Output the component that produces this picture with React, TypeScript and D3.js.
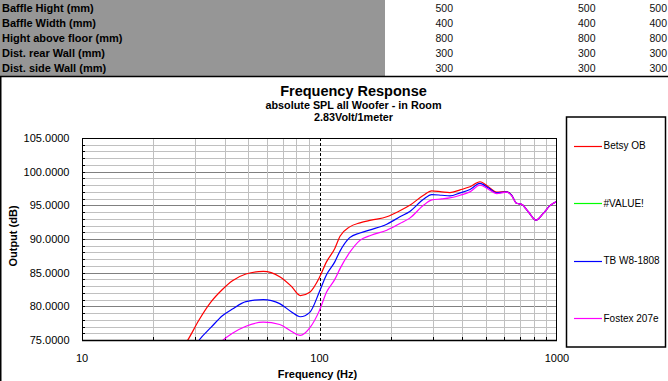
import React from "react";
import * as d3 from "d3";

const TABLE_LABELS = [
  "Baffle Hight (mm)",
  "Baffle Width (mm)",
  "Hight above floor (mm)",
  "Dist. rear Wall (mm)",
  "Dist. side Wall (mm)",
];
const TABLE_COL1 = ["500", "400", "800", "300", "300"];
const TABLE_COL2 = ["500", "400", "800", "300", "300"];
const TABLE_COL3 = ["500", "400", "800", "300", "300"];

const FREQ = [22, 25, 28, 31, 35, 39, 43, 49, 58, 68, 76, 83, 91, 100, 107, 116, 122, 134, 148, 165, 192, 218, 240, 274, 297, 327, 354, 391, 430, 474, 514, 557, 614, 644, 676, 710, 757, 816, 875, 934, 1000];

const BETSY = [69.5, 72.7, 75.1, 77.9, 80.7, 82.5, 83.8, 84.8, 85.2, 84.4, 83.0, 81.6, 82.1, 84.3, 86.6, 88.6, 90.4, 91.8, 92.4, 92.8, 93.3, 94.2, 95.0, 96.5, 97.15, 97.0, 96.9, 97.3, 97.75, 98.5, 97.75, 96.95, 97.05, 96.5, 95.3, 95.15, 94.05, 92.8, 93.8, 94.95, 95.6];
const VALUE_ERR: number[] = [];
const TBW8 = [65, 69, 72.5, 74.9, 76.9, 78.6, 79.6, 80.7, 81.0, 80.4, 79.2, 78.45, 79.1, 82.2, 84.7, 86.6, 88.2, 90.2, 90.9, 91.4, 92.2, 93.3, 94.1, 95.9, 96.6, 96.5, 96.4, 96.85, 97.35, 98.25, 97.6, 96.85, 97.0, 96.5, 95.3, 95.15, 94.05, 92.8, 93.8, 94.95, 95.6];
const FOSTEX = [62, 65.5, 68.5, 70.8, 72.9, 74.9, 76.0, 77.05, 77.65, 77.3, 76.3, 75.7, 76.8, 79.4, 82.1, 84.0, 85.6, 88.0, 89.8, 90.55, 91.3, 92.3, 93.1, 95.0, 95.8, 95.95, 96.1, 96.5, 97.0, 98.0, 97.4, 96.75, 96.95, 96.45, 95.3, 95.15, 94.05, 92.8, 93.8, 94.95, 95.6];

const SERIES_NAMES = ["Betsy OB", "#VALUE!", "TB W8-1808", "Fostex 207e"];
const SERIES_COLORS = ["#ff0000", "#00ff00", "#0000ff", "#ff00ff"];
const SERIES_VALUES = [BETSY, VALUE_ERR, TBW8, FOSTEX];

const Y_TICKS = [75, 80, 85, 90, 95, 100, 105];
const X_TICKS = [10, 100, 1000];
const X_MINOR = [20, 30, 40, 50, 60, 70, 80, 90, 200, 300, 400, 500, 600, 700, 800, 900];

const FONT = "'Liberation Sans', Arial, sans-serif";

export default function App() {
  const W = 668, H = 381;
  const L = 82, R = 557, T = 138, B = 340;
  const x = d3.scaleLog().domain([10, 1000]).range([L, R]);
  const y = d3.scaleLinear().domain([75, 105]).range([B, T]);
  const px = (v: number) => Math.round(v) + 0.5;

  const line = d3
    .line<[number, number]>()
    .x((d) => x(d[0]))
    .y((d) => y(d[1]))
    .curve(d3.curveMonotoneX);

  const minorY = d3.range(75, 106, 1);
  const rowY = (i: number) => 11.5 + i * 15.2;
  const legendY = [145.7, 203.3, 260.5, 318.3];

  return (
    <svg width={W} height={H} style={{ position: "absolute", left: 0, top: 0, background: "#fff" }} fontFamily={FONT}>
      <rect x={0} y={0} width={W} height={H} fill="#fff" />
      {/* top table */}
      <rect x={0} y={0} width={385} height={76} fill="#969696" />
      {TABLE_LABELS.map((t, i) => (
        <text key={"l" + i} x={2} y={rowY(i)} fontSize={11} fontWeight="bold" fill="#000">{t}</text>
      ))}
      {[TABLE_COL1, TABLE_COL2, TABLE_COL3].map((col, c) =>
        col.map((t, i) => (
          <text key={"c" + c + i} x={[453, 595.5, 667][c]} y={rowY(i)} fontSize={10.5} textAnchor="end" fill="#111">{t}</text>
        ))
      )}
      {/* chart area border */}
      <line x1={0} x2={W} y1={76.5} y2={76.5} stroke="#000" strokeWidth={1.5} />
      <line x1={0.75} x2={0.75} y1={76} y2={H} stroke="#000" strokeWidth={1.5} />

      {/* titles */}
      <text x={353.5} y={96} textAnchor="middle" fontSize={14.5} fontWeight="bold">Frequency Response</text>
      <text x={353.5} y={109} textAnchor="middle" fontSize={10.8} fontWeight="bold">absolute SPL all Woofer - in Room</text>
      <text x={353.5} y={120.7} textAnchor="middle" fontSize={10.8} fontWeight="bold">2.83Volt/1meter</text>

      {/* grid */}
      {minorY.map((v) => (
        <line key={"hy" + v} x1={L} x2={R} y1={px(y(v))} y2={px(y(v))} stroke={v % 5 === 0 ? "#808080" : "#c0c0c0"} strokeWidth={1} />
      ))}
      {X_MINOR.map((f) => (
        <line key={"vx" + f} x1={px(x(f))} x2={px(x(f))} y1={T} y2={B} stroke="#c0c0c0" strokeWidth={1} />
      ))}
      {/* inner ticks */}
      {minorY.map((v) => (
        <line key={"ty" + v} x1={L} x2={L + 3} y1={px(y(v))} y2={px(y(v))} stroke="#000" strokeWidth={1} />
      ))}
      {X_MINOR.map((f) => (
        <line key={"tx" + f} x1={px(x(f))} x2={px(x(f))} y1={B - 3} y2={B} stroke="#000" strokeWidth={1} />
      ))}
      {/* 100 Hz marker */}
      <line x1={px(x(100))} x2={px(x(100))} y1={T} y2={B} stroke="#000" strokeWidth={1} strokeDasharray="3,2" />

      <defs>
        <clipPath id="plotclip">
          <rect x={L} y={T} width={R - L} height={B - T} />
        </clipPath>
      </defs>
      <g clipPath="url(#plotclip)">
        {SERIES_VALUES.map((vals, si) =>
          vals.length ? (
            <path
              key={"s" + si}
              d={line(vals.map((v, i) => [FREQ[i], v] as [number, number])) || ""}
              fill="none"
              stroke={SERIES_COLORS[si]}
              strokeWidth={1.2}
            />
          ) : null
        )}
      </g>
      {/* plot border */}
      <rect x={L + 0.5} y={T + 0.5} width={R - L - 1} height={B - T} fill="none" stroke="#000" strokeWidth={1} />
      <line x1={L} x2={R} y1={B + 0.5} y2={B + 0.5} stroke="#000" strokeWidth={1.5} />

      {/* y tick labels */}
      {Y_TICKS.map((v) => (
        <text key={"yl" + v} x={69.5} y={y(v) + 4} textAnchor="end" fontSize={11} fill="#000">{v.toFixed(4)}</text>
      ))}
      {/* x tick labels */}
      {X_TICKS.map((f) => (
        <text key={"xl" + f} x={x(f)} y={361.5} textAnchor="middle" fontSize={11} fill="#000">{String(f)}</text>
      ))}
      <text x={317.5} y={378} textAnchor="middle" fontSize={11} fontWeight="bold">Frequency (Hz)</text>
      <text transform="translate(16.5,236) rotate(-90)" textAnchor="middle" fontSize={11} fontWeight="bold">Output (dB)</text>

      {/* legend */}
      <rect x={566.5} y={117} width={99} height={230} fill="#fff" stroke="#000" strokeWidth={1.5} />
      {SERIES_NAMES.map((n, i) => (
        <g key={"lg" + i}>
          <line x1={574} x2={602} y1={Math.round(legendY[i]) + 0.5} y2={Math.round(legendY[i]) + 0.5} stroke={SERIES_COLORS[i]} strokeWidth={1.2} />
          <text x={603.5} y={legendY[i] + 3.6} fontSize={10} fill="#000">{n}</text>
        </g>
      ))}
    </svg>
  );
}
